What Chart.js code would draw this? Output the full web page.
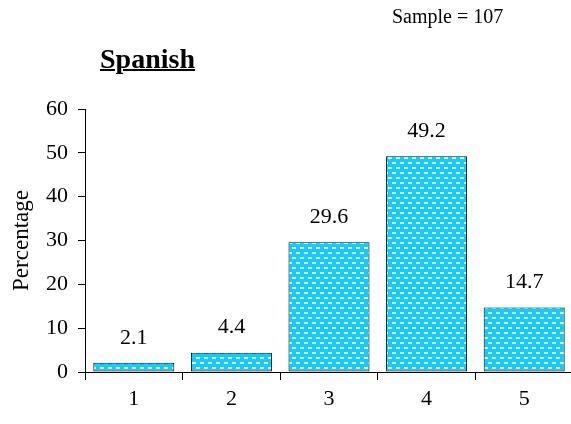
<!DOCTYPE html>
<html>
<head>
<meta charset="utf-8">
<script src="https://cdn.jsdelivr.net/npm/chart.js@4.4.0/dist/chart.umd.min.js"></script>
<style>
  html, body { margin: 0; padding: 0; background: #fff; overflow: hidden; }
  #wrap { position: relative; width: 578px; height: 424px; }
  .txt { position: absolute; font-family: "Liberation Serif", "Times New Roman", serif; color: #000; line-height: 1; white-space: nowrap; }
  #title { left: 100px; top: 45px; font-size: 28px; font-weight: bold; text-decoration: underline; text-decoration-thickness: 2px; }
  #sample { left: 392px; top: 6px; font-size: 20px; }
</style>
</head>
<body>
<div id="wrap">
  <canvas id="myChart" width="578" height="424"></canvas>
  <div class="txt" id="title">Spanish</div>
  <div class="txt" id="sample">Sample = 107</div>
</div>
<script>
var categories = ['1', '2', '3', '4', '5'];
var percentages = [2.1, 4.4, 29.6, 49.2, 14.7];
var yTicks = [0, 10, 20, 30, 40, 50, 60];

var FONT = '"Liberation Serif", "Times New Roman", serif';

// cyan fill with little white dashes, like the original
function makePattern() {
  var c = document.createElement('canvas');
  c.width = 8; c.height = 10;
  var g = c.getContext('2d');
  g.fillStyle = '#16cbf8';
  g.fillRect(0, 0, 8, 10);
  g.fillStyle = 'rgba(255,255,255,0.85)';
  g.fillRect(0, 2, 4, 2);
  g.fillRect(4, 7, 4, 2);
  return g.createPattern(c, 'repeat');
}

var valueLabels = {
  id: 'valueLabels',
  afterDatasetsDraw: function(chart) {
    var ctx = chart.ctx;
    var meta = chart.getDatasetMeta(0);
    ctx.save();
    ctx.font = '22px ' + FONT;
    ctx.fillStyle = '#000';
    ctx.textAlign = 'center';
    ctx.textBaseline = 'middle';
    meta.data.forEach(function(bar, i) {
      ctx.fillText(percentages[i].toFixed(1), bar.x, bar.y - 25);
    });
    ctx.restore();
  }
};

var ctx = document.getElementById('myChart');
var myChart = new Chart(ctx, {
  type: 'bar',
  data: {
    labels: categories,
    datasets: [{
      label: 'Percentage',
      data: percentages,
      backgroundColor: makePattern(),
      borderColor: '#000',
      borderWidth: 1,
      borderSkipped: false,
      barPercentage: 0.83,
      categoryPercentage: 1.0
    }]
  },
  options: {
    responsive: false,
    animation: false,
    layout: { padding: { top: 109, right: 5, left: 0, bottom: 0 } },
    scales: {
      x: {
        grid: {
          offset: true,
          drawOnChartArea: false,
          drawTicks: true,
          tickLength: 8,
          color: '#000'
        },
        border: { color: '#000', width: 1 },
        ticks: {
          color: '#000',
          padding: 6,
          font: { family: FONT, size: 22 }
        },
        afterFit: function(scale) { scale.height = 52; }
      },
      y: {
        min: 0,
        max: 60,
        afterBuildTicks: function(scale) {
          scale.ticks = yTicks.map(function(v) { return { value: v }; });
        },
        grid: {
          drawOnChartArea: false,
          drawTicks: true,
          tickLength: 7,
          color: '#000'
        },
        border: { color: '#000', width: 1 },
        ticks: {
          color: '#000',
          padding: 10,
          font: { family: FONT, size: 22 }
        },
        title: {
          display: true,
          text: 'Percentage',
          color: '#000',
          padding: { top: 8, bottom: 0 },
          font: { family: FONT, size: 23 }
        },
        afterFit: function(scale) { scale.width = 85; }
      }
    },
    plugins: {
      legend: { display: false },
      tooltip: { enabled: false }
    }
  },
  plugins: [valueLabels]
});
</script>
</body>
</html>
